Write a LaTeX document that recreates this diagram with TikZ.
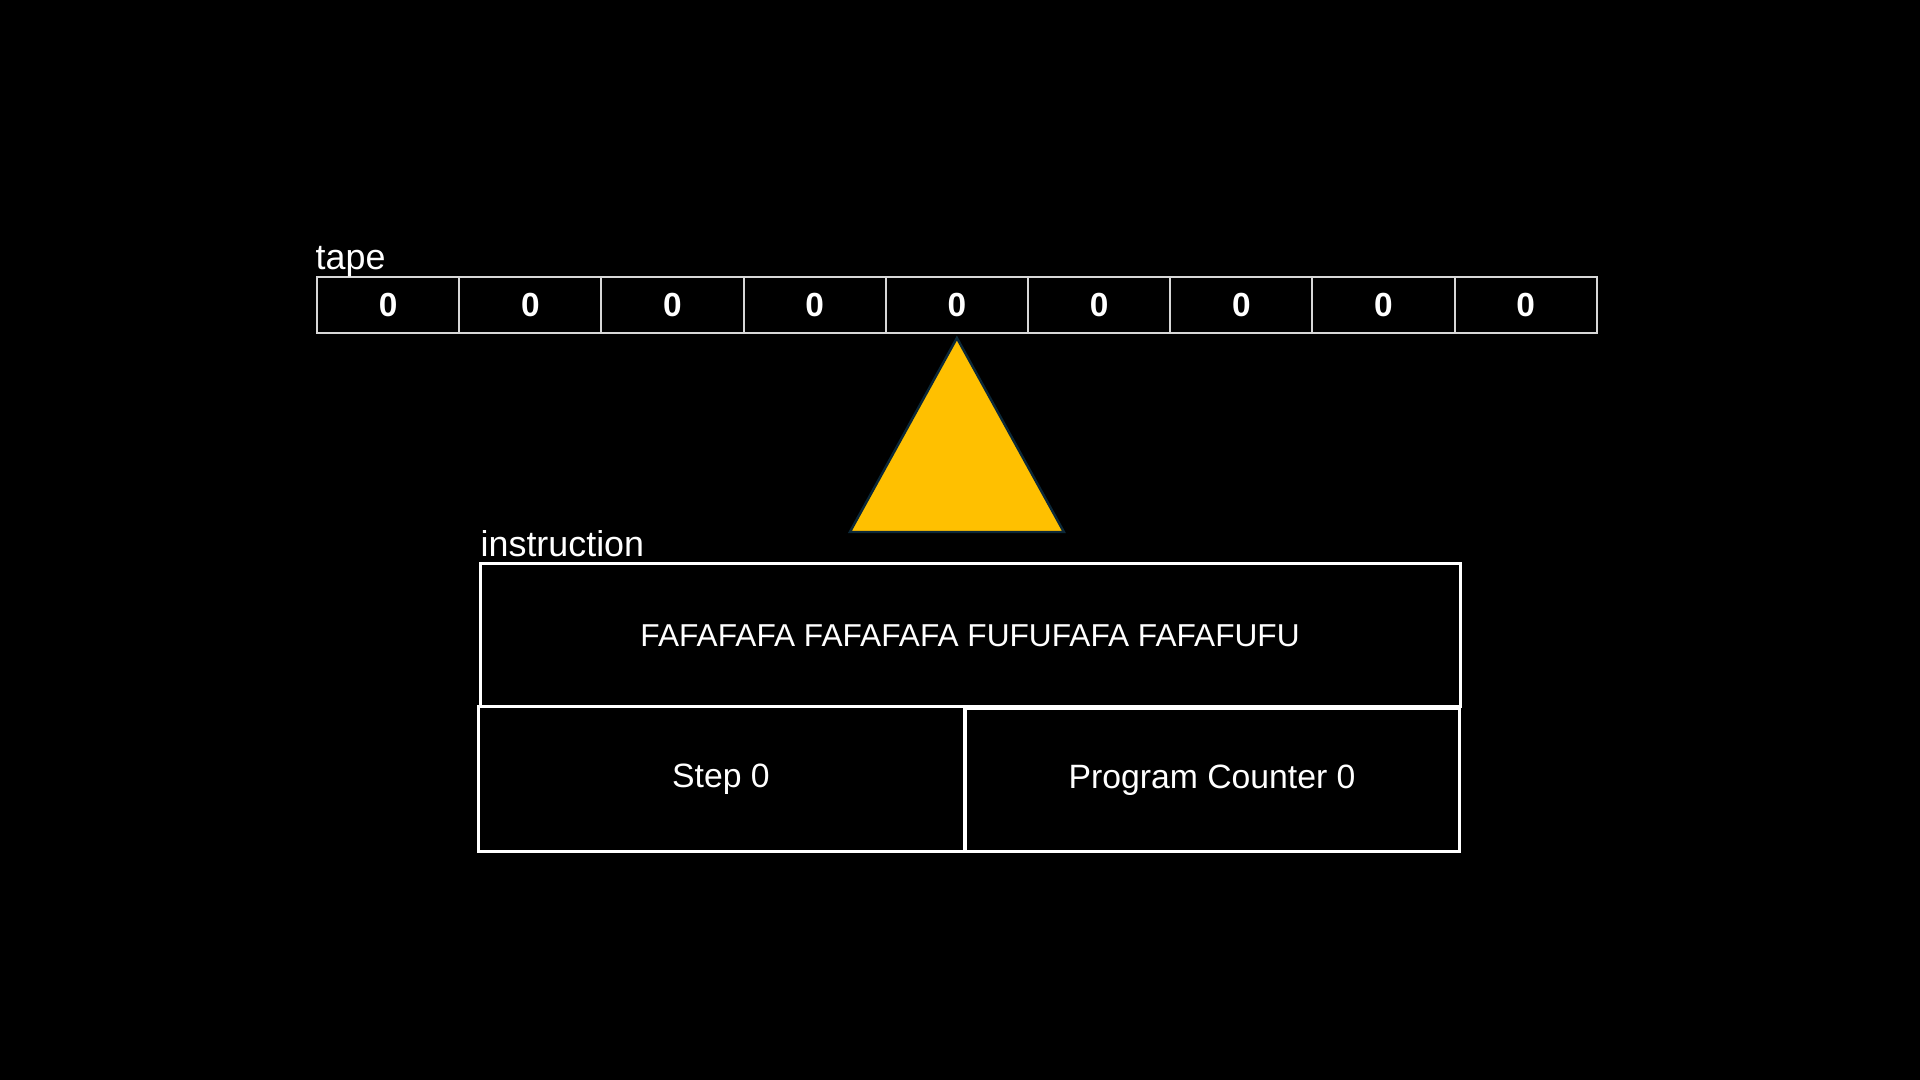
\documentclass[tikz,border=0pt]{standalone}
\usepackage{fontspec}
\setmainfont{Liberation Sans}
\usepackage{tikz}
\definecolor{headyellow}{RGB}{255,192,0}
\definecolor{headborder}{RGB}{12,40,56}
\definecolor{tapeline}{RGB}{215,215,215}
\usetikzlibrary{positioning}
\tikzset{cell/.style={rectangle,draw=tapeline,line width=0.6pt,outer sep=0pt,inner sep=0pt,minimum width=1.422cm,minimum height=0.56cm,text=white,font=\fontsize{9.5}{11}\selectfont\bfseries}}
\tikzset{regbox/.style={rectangle,draw=white,line width=0.85pt,outer sep=0pt,inner sep=0pt,text=white,font=\fontsize{9.6}{11}\selectfont}}
\tikzset{lbl/.style={text=white,inner sep=0pt,font=\fontsize{10.2}{12}\selectfont}}
\tikzset{pointer/.style={fill=headyellow,draw=headborder,line width=0.7pt,line join=miter}}

\begin{document}
\begin{tikzpicture}
  \fill[black] (0,0) rectangle (19.2,10.8);
  \useasboundingbox (0,0) rectangle (19.2,10.8);

  % Tape
  \node[cell,anchor=north west] (c1) at (3.17,8.03) {0};
  \foreach \i [remember=\i as \j (initially 1)] in {2,...,9}
  {
    \node[cell,right=0pt of c\j] (c\i) {0};
  }
  \node[lbl,anchor=base west] (tapelbl) at ([shift={(-0.02,0.07)}]c1.north west) {tape};

  % Head
  \coordinate (apex) at ([yshift=-0.05cm]c5.south);
  \draw[pointer] (apex) -- ++(-1.07,-1.94) -- ++(2.14,0) -- cycle;

  % Registers
  \node[regbox,minimum width=9.8cm,minimum height=1.43cm,anchor=north west,font=\fontsize{9}{11}\selectfont] (instr) at (4.80,5.16) {FAFAFAFA FAFAFAFA FUFUFAFA FAFAFUFU};
  \node[lbl,anchor=base west] (instrlbl) at ([shift={(0,0.07)}]instr.north west) {instruction};
  \node[regbox,minimum width=4.86cm,minimum height=1.45cm,anchor=north west] (step) at ([xshift=-0.02cm]instr.south west) {Step 0};
  \node[regbox,minimum width=4.94cm,minimum height=1.43cm,right=0.01cm of step.north east,anchor=north west,yshift=-0.02cm] (pc) {Program Counter 0};
\end{tikzpicture}
\end{document}
